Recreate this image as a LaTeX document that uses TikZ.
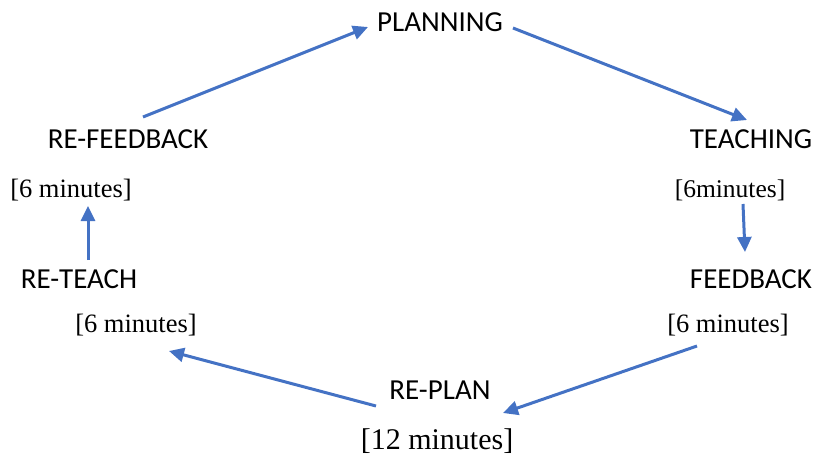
\documentclass[tikz,border=0pt]{standalone}
\usepackage{xcolor}
\usepackage{fontspec}
\setmainfont{Liberation Serif}
\newfontfamily\stagefont{Carlito}
\usepackage{tikz}
\usetikzlibrary{arrows.meta}
\definecolor{cycleblue}{RGB}{68,114,196}

\tikzset{
  stage/.style={font=\stagefont\fontsize{29}{34}\selectfont, inner sep=0pt},
  duration/.style={font=\fontsize{26.5}{32}\selectfont, inner sep=0pt},
  flow/.style={draw=cycleblue, line width=3pt, -{Triangle[length=15pt,width=14pt]}}
}

\begin{document}
\begin{tikzpicture}[x=1pt, y=-1pt]
\useasboundingbox (0,0) rectangle (814,463);

% stages of the cycle
\node[stage] (planning) at (440,22) {PLANNING};
\node[stage] (teaching) at (751,139) {TEACHING};
\node[duration, font=\fontsize{25.5}{30}\selectfont] (teachtime) at (730,190) {[6minutes]};
\node[stage] (feedback) at (751,279) {FEEDBACK};
\node[duration] (feedtime) at (728,325) {[6 minutes]};
\node[stage] (replan) at (440,390) {RE-PLAN};
\node[duration, font=\fontsize{30}{36}\selectfont] (replantime) at (437,441) {[12 minutes]};
\node[duration] (reteachtime) at (136,325) {[6 minutes]};
\node[stage] (reteach) at (79,279) {RE-TEACH};
\node[duration] (refeedtime) at (71,190) {[6 minutes]};
\node[stage] (refeedback) at (128,139) {RE-FEEDBACK};

% arrow ends
\coordinate (a1s) at (143,117);
\coordinate (a1e) at (368,27);
\coordinate (a2s) at (513,28);
\coordinate (a2e) at (747,120);
\coordinate (a3s) at (743,204);
\coordinate (a3e) at (745,252);
\coordinate (a4s) at (697,346);
\coordinate (a4e) at (503,413);
\coordinate (a5s) at (376,406);
\coordinate (a5e) at (169,351);
\coordinate (a6s) at (88,260);
\coordinate (a6e) at (88,206);

\draw[flow] (a1s) -- (a1e);
\draw[flow] (a2s) -- (a2e);
\draw[flow] (a3s) -- (a3e);
\draw[flow] (a4s) -- (a4e);
\draw[flow] (a5s) -- (a5e);
\draw[flow] (a6s) -- (a6e);
\end{tikzpicture}
\end{document}
